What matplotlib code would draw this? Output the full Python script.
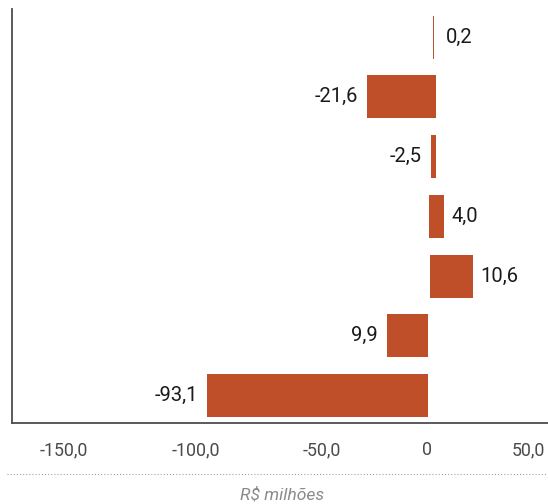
import matplotlib
matplotlib.use("Agg")
import matplotlib.pyplot as plt
from matplotlib.lines import Line2D

plt.rcParams['font.family'] = ['Roboto', 'DejaVu Sans']

# rows from bottom to top
labels = ['-93,1', '9,9', '10,6', '4,0', '-2,5', '-21,6', '0,2']
bar_start = [0.3, 0.3, 1.5, 1.0, 4.4, 4.4, 3.0]
bar_end = [-108.4, -19.7, 22.7, 8.4, 2.0, -29.6, 3.3]

tick_labels = ['-150,0', '-100,0', '-50,0', '0', '50,0']
tick_pos = [-178.8, -114.0, -51.7, 0.0, 50.0]

bar_color = '#BF4F29'

fig = plt.figure(figsize=(5.48, 5.04), dpi=100)
ax = fig.add_axes([0.0228, 0.1607, 0.9772, 0.8214])

ypos = list(range(len(labels)))
for y, s, e, lab in zip(ypos, bar_start, bar_end, labels):
    left = min(s, e)
    width = abs(e - s)
    ax.barh(y, width, left=left, height=0.72, color=bar_color, linewidth=0)
    if e >= s:
        gap = 5 if width > 1 else 8.5
        ax.annotate(lab, xy=(left + width, y), xytext=(gap, 0), textcoords='offset points',
                    ha='left', va='center', fontsize=14.5, color='#1a1a1a')
    else:
        ax.annotate(lab, xy=(left, y), xytext=(-6.5, 0), textcoords='offset points',
                    ha='right', va='center', fontsize=14.5, color='#1a1a1a')

ax.set_xlim(-204.2, 59.6)
ax.set_ylim(-0.46, 6.47)
ax.set_yticks([])
ax.set_xticks(tick_pos)
ax.set_xticklabels(tick_labels, fontsize=12.8, color='#4a4a4a')
ax.tick_params(axis='x', length=0, pad=13)

for side in ['top', 'right']:
    ax.spines[side].set_visible(False)
ax.spines['left'].set_color('#4d4d4d')
ax.spines['bottom'].set_color('#4d4d4d')
ax.spines['left'].set_linewidth(1.3)
ax.spines['bottom'].set_linewidth(1.3)

# dotted separator and unit note under the axis
fig.add_artist(Line2D([7 / 548, 1.0], [0.0595, 0.0595], color='#9a9a9a',
                      linewidth=0.75, linestyle=(0, (1, 2))))
fig.text(0.5146, 0.018, 'R$ milhões', ha='center', va='center',
         fontsize=12.6, style='italic', color='#8a8a8a')

fig.savefig('out.png', dpi=100)
